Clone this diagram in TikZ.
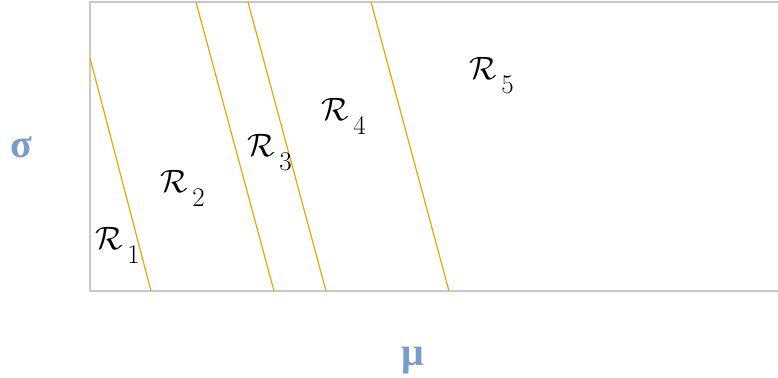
\documentclass[tikz,border=0pt]{standalone}
\usepackage{amsmath, amssymb}
\usepackage{fontspec}
\setmainfont{Liberation Serif}
\usepackage{tikz}
\usetikzlibrary{positioning, calc}
\definecolor{frameg}{HTML}{C8C8C8}
\definecolor{bordo}{HTML}{E6A70C}
\definecolor{axblue}{HTML}{7A9CC6}
\newcommand{\reg}[1]{$\mathcal{R}_{\,\raisebox{-7pt}{$\scriptstyle #1$}}$}

\begin{document}
\begin{tikzpicture}[x=1pt, y=-1pt,
    region/.style={font=\fontsize{24.88}{28}\selectfont, inner sep=0pt, scale=1.3, transform shape},
    axis/.style={font=\fontsize{40}{42}\selectfont\bfseries, text=axblue, inner sep=0pt},
    bound/.style={draw=bordo, line width=1.2pt},
    frame/.style={draw=frameg, line width=2pt}]
    \useasboundingbox (0,0) rectangle (778,377);
    \draw[frame] (778,2) -- (90,2) -- (90,291) -- (778,291);
    % boundaries between the regions
    \coordinate (b1t) at (90,58);   \coordinate (b1b) at (151,291);
    \coordinate (b2t) at (196,2);   \coordinate (b2b) at (274,291);
    \coordinate (b3t) at (248,2);   \coordinate (b3b) at (326,291);
    \coordinate (b4t) at (371,2);   \coordinate (b4b) at (449,291);
    \draw[bound] (b1t) -- (b1b);
    \draw[bound] (b2t) -- (b2b);
    \draw[bound] (b3t) -- (b3b);
    \draw[bound] (b4t) -- (b4b);
    \node[region] (r1) at (118,245) {\reg{1}};
    \node[region] (r2) at (183,188) {\reg{2}};
    \node[region] (r3) at (270,152) {\reg{3}};
    \node[region] (r4) at (344,116) {\reg{4}};
    \node[region] (r5) at (492,75)  {\reg{5}};
    \node[axis] (sig) at (21,147) {σ};
    \node[axis] (mu)  at (413,361) {μ};
\end{tikzpicture}
\end{document}
